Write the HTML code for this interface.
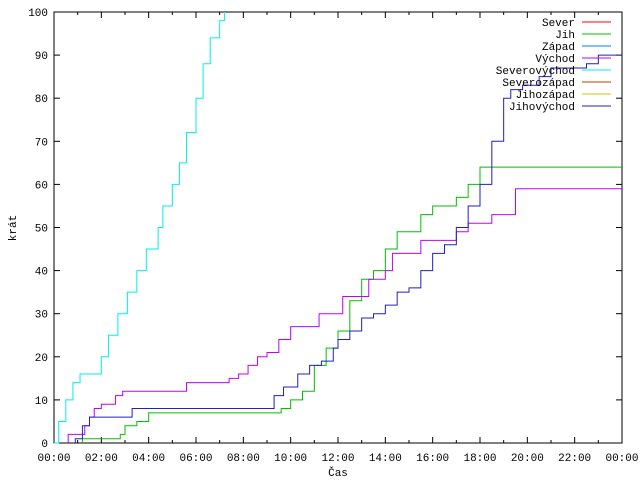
<!DOCTYPE html>
<html><head><meta charset="utf-8"><style>
body{margin:0;background:#fff}
svg{display:block;font-family:"Liberation Mono","DejaVu Sans Mono",monospace;font-size:11px}
</style></head><body>
<svg id="c" width="640" height="480"></svg>
<script>
const xTickLabels=["00:00","02:00","04:00","06:00","08:00","10:00","12:00","14:00","16:00","18:00","20:00","22:00","00:00"];
const yTickLabels=[0,10,20,30,40,50,60,70,80,90,100];
const legendNames=["Sever","Jih","Západ","Východ","Severovýchod","Severozápad","Jihozápad","Jihovýchod"];
const legendColors=["#ff0000","#00c000","#0080ff","#c000ff","#00eeee","#c04000","#c8c800","#2020c0"];
const cyanT=[0,0.2,0.5,0.8,1.1,1.6,2.0,2.3,2.7,3.1,3.5,3.9,4.4,4.6,5.0,5.3,5.6,6.0,6.3,6.6,7.0,7.2];
const cyanV=[0,5,10,14,16,16,20,25,30,35,40,45,50,55,60,65,72,80,88,94,98,100];
const purpleT=[0.6,1.3,1.5,1.7,2.0,2.6,2.9,5.6,7.4,7.8,8.2,8.6,9.0,9.5,10.0,11.2,12.2,13.3,14.0,14.3,15.5,17.0,17.5,18.5,19.5,24];
const purpleV=[2,4,6,8,9,11,12,14,15,16,18,20,21,24,27,30,34,38,40,44,47,49,51,53,59,59];
const greenT=[1.2,2.8,3.0,3.5,4.0,9.6,10.0,10.5,11.0,11.5,12.0,12.5,13.0,13.5,14.0,14.5,15.5,16.0,17.0,17.5,18.0,24];
const greenV=[1,2,4,5,7,8,10,12,18,22,26,33,38,40,45,49,53,55,57,60,64,64];
const blueT=[0.9,1.2,1.5,3.3,9.0,9.3,9.7,10.3,10.8,11.3,11.8,12.0,12.5,13.0,13.5,14.0,14.5,15.0,15.5,16.0,16.5,17.0,17.5,18.0,18.5,19.0,19.3,19.8,20.5,21.0,22.5,23.0,24];
const blueV=[1,4,6,8,8,11,13,16,18,19,22,24,26,29,30,32,35,36,40,44,46,50,55,60,70,80,82,83,85,87,88,90,90];
const L=54,R=622,T=12,B=443;
const X=h=>L+(R-L)*h/24, Y=v=>B-(B-T)*v/100;
const svg=document.getElementById('c'),NS="http://www.w3.org/2000/svg";
function mk(t,a,p){const e=document.createElementNS(NS,t);for(const k in a)e.setAttribute(k,a[k]);(p||svg).appendChild(e);return e;}
let e=mk('rect',{x:L,y:T,width:R-L,height:B-T,fill:'none',stroke:'#000'});


yTickLabels.forEach(v=>{const y=Y(v);
 mk('line',{x1:L,x2:L+6,y1:y,y2:y,stroke:'#000'});mk('line',{x1:R,x2:R-6,y1:y,y2:y,stroke:'#000'});
 const t=mk('text',{x:L-6,y:y+4,'text-anchor':'end'});t.textContent=v;
 
 });
for(let h=0;h<=24;h++){const x=X(h),len=h%2?3:6;
 mk('line',{x1:x,x2:x,y1:B,y2:B-len,stroke:'#000'});mk('line',{x1:x,x2:x,y1:T,y2:T+len,stroke:'#000'});}
xTickLabels.forEach((s,i)=>{const t=mk('text',{x:X(i*2),y:B+18,'text-anchor':'middle'});t.textContent=s;
 
 });
let xt=mk('text',{x:338,y:476,'text-anchor':'middle'});xt.textContent='Čas';


let yt=mk('text',{x:0,y:0,'text-anchor':'middle',transform:'translate(16,228) rotate(-90)'});yt.textContent='krát';


function series(ts,vs,col,name){let d='M'+X(ts[0])+','+Y(0)+' V'+Y(vs[0]);
 for(let i=1;i<ts.length;i++){d+=' H'+X(ts[i])+' V'+Y(vs[i]);}
 const p=mk('path',{d:d,fill:'none',stroke:col,'stroke-width':1});
 
 }
series(greenT,greenV,legendColors[1],'series-jih');
series(purpleT,purpleV,legendColors[3],'series-vychod');
series(cyanT,cyanV,legendColors[4],'series-severovychod');
series(blueT,blueV,legendColors[7],'series-jihovychod');
legendNames.forEach((n,i)=>{const y=22+i*12;
 const g=mk('g',{});
 
 
 const t=mk('text',{x:575,y:y+4,'text-anchor':'end'},g);t.textContent=n;
 mk('line',{x1:582,x2:611,y1:y,y2:y,stroke:legendColors[i]},g);});
</script>
</body></html>
